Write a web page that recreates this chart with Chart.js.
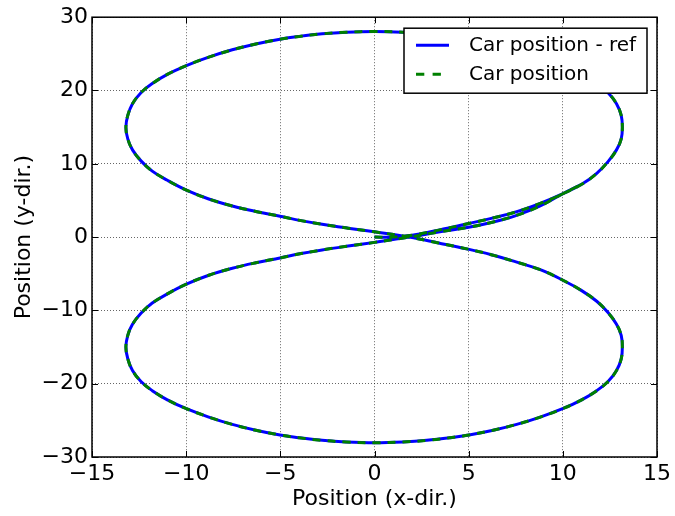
<!DOCTYPE html>
<html>
<head>
<meta charset="utf-8">
<script src="https://cdn.jsdelivr.net/npm/chart.js@4.4.0/dist/chart.umd.min.js"></script>
<style>
  html, body { margin: 0; padding: 0; background: #fff; }
  canvas { display: block; }
</style>
</head>
<body>
<canvas id="chart" width="675" height="516"></canvas>
<script>
// car path, in driving order (starts at the origin heading +x)
const posX = [
  0, 1.0, 2.0, 3.4, 5.0, 6.2, 7.47, 8.8, 9.95, 11.0, 11.8, 12.4, 12.85, 13.1, 13.16, 13.1, 12.85, 12.4, 11.8, 11.0,
  10.02, 8.8, 7.55, 6.3, 5.02, 4.0, 2.78, 1.5, 0,
  -1.5, -2.78, -4.0, -5.02, -6.3, -7.55, -8.8, -10.02, -11.0, -11.8, -12.4, -12.85, -13.1, -13.2, -13.1, -12.85,
  -12.4, -11.8, -11.0, -10.02, -8.8, -7.55, -6.3, -5.02, -3.9, -2.78, -1.4, 0, 1.85,
  3.4, 4.96, 6.2, 7.47, 8.8, 9.98, 11.0, 11.8, 12.4, 12.85, 13.1, 13.16, 13.1, 12.85, 12.4, 11.8, 11.0,
  10.02, 8.8, 7.55, 6.3, 5.02, 4.0, 2.78, 1.5, 0,
  -1.5, -2.78, -4.0, -5.02, -6.3, -7.55, -8.8, -10.02, -11.0, -11.8, -12.4, -12.85, -13.1, -13.2, -13.1, -12.85,
  -12.4, -11.8, -11.0, -10.02, -8.8, -7.55, -6.3, -5.02, -3.9, -2.78, -1.4, 0, 1.85,
  3.4, 5.0, 6.2, 7.47, 8.8, 9.95, 11.0
];
const posY = [
  0, 0, 0.25, 0.95, 1.85, 2.55, 3.4, 4.6, 5.85, 7.2, 8.7, 10.3, 11.9, 13.4, 15.0, 16.6, 18.2, 19.7, 20.95, 22.2,
  23.37, 24.55, 25.55, 26.35, 27.0, 27.38, 27.73, 27.95, 28.05,
  27.95, 27.73, 27.38, 27.0, 26.35, 25.55, 24.55, 23.37, 22.2, 20.95, 19.7, 18.2, 16.6, 15.0, 13.4, 11.9,
  10.4, 9.0, 7.75, 6.45, 5.2, 4.25, 3.5, 2.85, 2.25, 1.75, 1.22, 0.72, 0,
  -0.8, -1.64, -2.4, -3.35, -4.45, -5.85, -7.3, -8.75, -10.3, -11.9, -13.4, -15.0, -16.6, -18.2, -19.7, -20.95, -22.2,
  -23.37, -24.55, -25.55, -26.35, -27.0, -27.38, -27.73, -27.95, -28.05,
  -27.95, -27.73, -27.38, -27.0, -26.35, -25.55, -24.55, -23.37, -22.2, -20.95, -19.7, -18.2, -16.6, -15.0, -13.4, -11.9,
  -10.4, -9.0, -7.75, -6.45, -5.2, -4.25, -3.5, -2.85, -2.25, -1.75, -1.22, -0.72, 0,
  0.7, 1.35, 2.0, 2.9, 4.25, 5.85, 7.2
];

const xTicks = [-15, -10, -5, 0, 5, 10, 15];
const yTicks = [-30, -20, -10, 0, 10, 20, 30];
const seriesNames = ['Car position - ref', 'Car position'];
const seriesColors = ['#0000ff', '#008000'];

const FONT = 'DejaVu Sans';
Chart.defaults.font.family = FONT;
Chart.defaults.color = '#000';

function toPoints(xs, ys) {
  return xs.map((x, i) => ({x: x, y: ys[i]}));
}
const minus = v => String(v).replace('-', '\u2212');

// matplotlib-classic frame: black box, ticks pointing inwards, legend inside the axes
const framePlugin = {
  id: 'frame',
  afterDraw(chart) {
    const {ctx, chartArea: a, scales} = chart;
    ctx.save();
    ctx.strokeStyle = '#000';
    ctx.lineWidth = 1;
    ctx.beginPath();
    xTicks.forEach(v => {
      const px = Math.round(scales.x.getPixelForValue(v)) + 0.5;
      ctx.moveTo(px, a.bottom); ctx.lineTo(px, a.bottom - 6);
      ctx.moveTo(px, a.top); ctx.lineTo(px, a.top + 6);
    });
    yTicks.forEach(v => {
      const py = Math.round(scales.y.getPixelForValue(v)) + 0.5;
      ctx.moveTo(a.left, py); ctx.lineTo(a.left + 6, py);
      ctx.moveTo(a.right, py); ctx.lineTo(a.right - 6, py);
    });
    ctx.stroke();
    ctx.lineWidth = 1.5;
    ctx.strokeRect(a.left, a.top, a.right - a.left, a.bottom - a.top);

    // legend box
    const bx = a.right - 253, by = a.top + 11, bw = 243, bh = 65;
    ctx.fillStyle = '#fff';
    ctx.fillRect(bx, by, bw, bh);
    ctx.lineWidth = 1.5;
    ctx.strokeRect(bx, by, bw, bh);
    ctx.font = '20px "' + FONT + '"';
    ctx.textBaseline = 'middle';
    ctx.fillStyle = '#000';
    chart.data.datasets.forEach((ds, i) => {
      const y = by + 17 + i * 29;
      ctx.beginPath();
      ctx.strokeStyle = ds.borderColor;
      ctx.lineWidth = 3;
      ctx.setLineDash(i === 1 ? [8.3, 8.3] : []);
      ctx.moveTo(bx + 12, y); ctx.lineTo(bx + 45, y);
      ctx.stroke();
      ctx.setLineDash([]);
      ctx.fillText(ds.label, bx + 65, y + 1);
    });
    ctx.restore();
  }
};

new Chart(document.getElementById('chart'), {
  type: 'scatter',
  data: {
    datasets: [
      {
        label: seriesNames[0],
        data: toPoints(posX, posY),
        showLine: true,
        borderColor: seriesColors[0],
        borderWidth: 3,
        pointRadius: 0,
        tension: 0.4,
        order: 2
      },
      {
        label: seriesNames[1],
        data: toPoints(posX, posY),
        showLine: true,
        borderColor: seriesColors[1],
        borderWidth: 3,
        borderDash: [8, 7],
        pointRadius: 0,
        tension: 0.4,
        order: 1
      }
    ]
  },
  options: {
    responsive: false,
    animation: false,
    layout: {padding: {top: 17, right: 17, left: 0, bottom: 0}},
    plugins: {legend: {display: false}, tooltip: {enabled: false}},
    scales: {
      x: {
        type: 'linear',
        min: -15, max: 15,
        afterBuildTicks: s => { s.ticks = xTicks.map(v => ({value: v})); },
        afterFit: s => { s.height = 59; },
        ticks: {font: {size: 22}, padding: 4, maxRotation: 0, callback: v => minus(v)},
        grid: {color: 'rgba(0,0,0,0.6)', lineWidth: 1, drawTicks: false},
        border: {display: false, dash: [1, 2]},
        title: {display: true, text: 'Position (x-dir.)', font: {size: 22}, padding: {top: 0, bottom: 4}}
      },
      y: {
        type: 'linear',
        min: -30, max: 30,
        afterBuildTicks: s => { s.ticks = yTicks.map(v => ({value: v})); },
        afterFit: s => { s.width = 92; },
        ticks: {font: {size: 22}, padding: 4, callback: v => minus(v)},
        grid: {color: 'rgba(0,0,0,0.6)', lineWidth: 1, drawTicks: false},
        border: {display: false, dash: [1, 2]},
        title: {display: true, text: 'Position (y-dir.)', font: {size: 22}, padding: {top: 11, bottom: 0}}
      }
    }
  },
  plugins: [framePlugin]
});
</script>
</body>
</html>
